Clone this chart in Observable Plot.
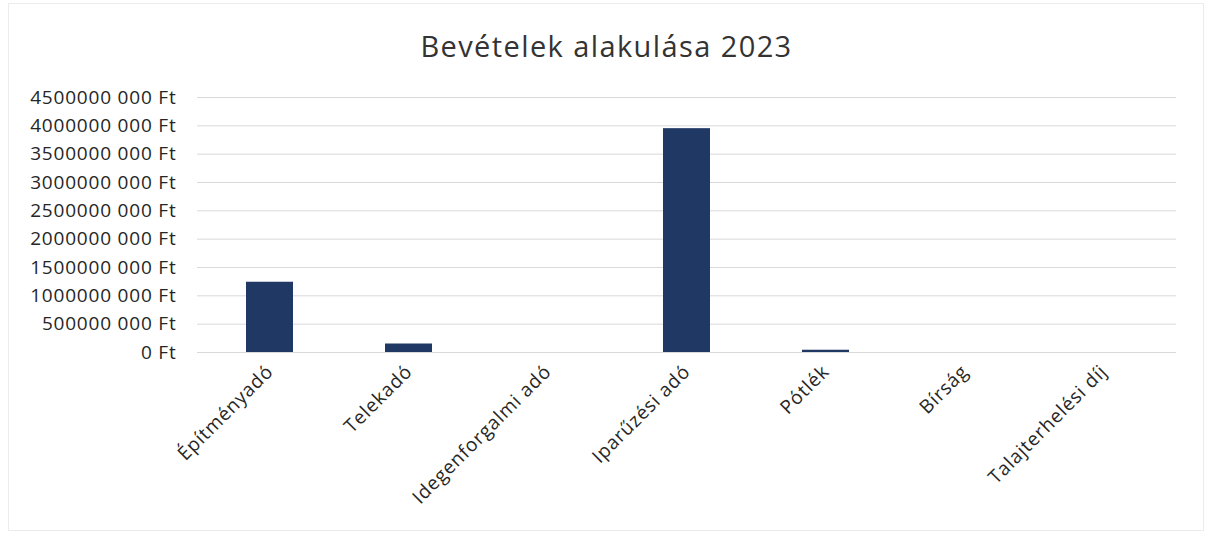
<!DOCTYPE html>
<html>
<head>
<meta charset="utf-8">
<script src="https://cdn.jsdelivr.net/npm/d3@7"></script>
<script src="https://cdn.jsdelivr.net/npm/@observablehq/plot@0.6"></script>
<style>
  html, body { margin: 0; padding: 0; background: #fff; }
  #wrap { position: relative; width: 1213px; height: 539px; overflow: hidden; }
  #frame { position: absolute; left: 8px; top: 3px; width: 1196px; height: 528px; border: 1px solid #ececec; box-sizing: border-box; }
  #title { position: absolute; left: 0; top: 27px; width: 1213px; text-align: center; font-family: "Open Sans", sans-serif; font-size: 29px; letter-spacing: 1.4px; line-height: 38px; color: #333333; }
  #chart { position: absolute; left: 0; top: 80px; }
  #chart svg text { letter-spacing: 0.8px; }
</style>
</head>
<body>
<div id="wrap">
  <div id="frame"></div>
  <div id="title">Bevételek alakulása 2023</div>
  <div id="chart"></div>
</div>
<script>
const categories = ["Építményadó", "Telekadó", "Idegenforgalmi adó", "Iparűzési adó", "Pótlék", "Bírság", "Talajterhelési díj"];
const values = [1240000000, 150000000, 0, 3950000000, 40000000, 0, 0];
const yTicks = [0, 500000000, 1000000000, 1500000000, 2000000000, 2500000000, 3000000000, 3500000000, 4000000000, 4500000000];

const data = categories.map((c, i) => ({category: c, value: values[i]}));

function fmt(d) {
  if (d === 0) return "0 Ft";
  const thousands = Math.floor(d / 1000);
  const rest = String(d % 1000).padStart(3, "0");
  return thousands + " " + rest + " Ft";
}

const chart = Plot.plot({
  width: 1213,
  height: 459,
  marginLeft: 197,
  marginRight: 37,
  marginTop: 17,
  marginBottom: 187,
  style: {fontFamily: "Open Sans, sans-serif", fontSize: "19px", color: "#262626", background: "transparent"},
  x: {domain: categories, paddingInner: 0.66, paddingOuter: 0.33, label: null},
  y: {domain: [0, 4500000000], label: null},
  marks: [
    Plot.gridY(yTicks, {stroke: "#d9d9d9", strokeOpacity: 1}),
    Plot.axisY({ticks: yTicks, tickFormat: fmt, tickSize: 0, tickPadding: 21, label: null, fontSize: 19}),
    Plot.axisX({tickSize: 0, tickRotate: -45, tickPadding: 16, label: null, fontSize: 19}),
    Plot.barY(data, {x: "category", y: "value", fill: "#203864"}),
    Plot.ruleY([0], {stroke: "#d9d9d9"})
  ]
});
document.getElementById("chart").appendChild(chart);
</script>
</body>
</html>
